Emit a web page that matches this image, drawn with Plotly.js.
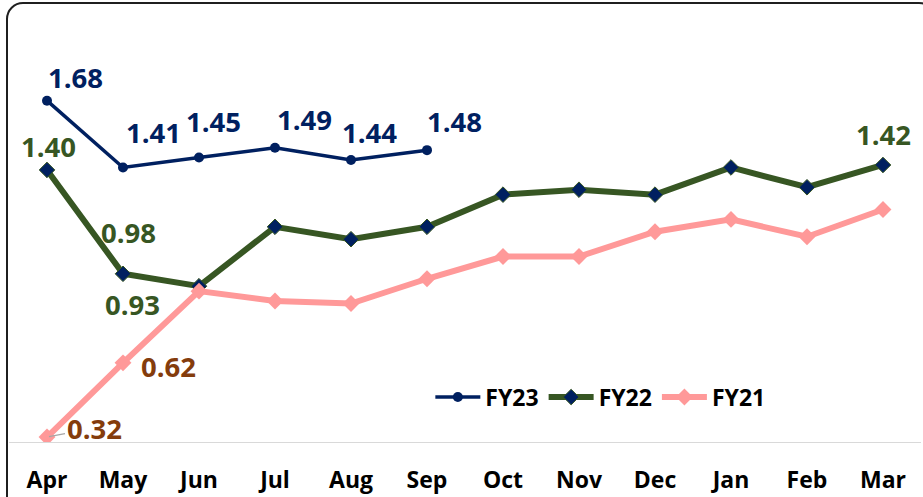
<!DOCTYPE html>
<html>
<head>
<meta charset="utf-8">
<script src="https://cdn.plot.ly/plotly-3.0.1.min.js"></script>
<style>
  html, body { margin: 0; padding: 0; width: 923px; height: 497px; overflow: hidden; background: #ffffff; }
  #chart { position: absolute; left: 0; top: 0; width: 923px; height: 497px; }
  #frame { position: absolute; left: 6px; top: 2px; width: 926px; height: 530px; border: 2px solid #1f1f1f; border-radius: 17px; pointer-events: none; z-index: 10; }
</style>
</head>
<body>
<div id="chart"></div>
<div id="frame"></div>
<script>
// ---- data ----
const months = ["Apr", "May", "Jun", "Jul", "Aug", "Sep", "Oct", "Nov", "Dec", "Jan", "Feb", "Mar"];
const fy23 = [1.68, 1.41, 1.45, 1.49, 1.44, 1.48];
const fy22 = [1.40, 0.98, 0.93, 1.17, 1.12, 1.17, 1.30, 1.32, 1.30, 1.41, 1.33, 1.42];
const fy21 = [0.32, 0.62, 0.91, 0.87, 0.86, 0.96, 1.05, 1.05, 1.15, 1.20, 1.13, 1.24];
const seriesNames = ["FY23", "FY22", "FY21"];

// which points carry a value label, and where the label sits relative to its point (px)
const fy23Labelled = [0, 1, 2, 3, 4, 5];
const fy23LabelShift = [[28, 23], [30, 35], [14, 36], [29, 28], [18, 28], [27, 29]];
const fy22Labelled = [0, 1, 2, 11];
const fy22LabelShift = [[1, 23], [5, 41], [-67, -18], [0, 30]];
const fy21Labelled = [1];
const fy21LabelShift = [[45, -4]];

const navy = "#002060", green = "#375623", pink = "#FF9999", brown = "#843C0C";
const FONT = "'Open Sans', Lato, sans-serif";

const traces = [
  {
    x: months.slice(0, fy23.length), y: fy23, name: seriesNames[0], type: "scatter", mode: "lines+markers",
    line: { color: navy, width: 3.5 },
    marker: { symbol: "circle", size: 10, color: navy }
  },
  {
    x: months, y: fy22, name: seriesNames[1], type: "scatter", mode: "lines+markers",
    line: { color: green, width: 6 },
    marker: { symbol: "diamond", size: 12, color: navy, line: { color: green, width: 1 } }
  },
  {
    x: months, y: fy21, name: seriesNames[2], type: "scatter", mode: "lines+markers",
    line: { color: pink, width: 6 },
    marker: { symbol: "diamond", size: 13, color: pink }
  }
];

function labels(values, idx, shifts, color) {
  return idx.map((i, k) => ({
    x: months[i], y: values[i], xref: "x", yref: "y",
    text: values[i].toFixed(2), showarrow: false,
    xshift: shifts[k][0], yshift: shifts[k][1],
    font: { family: FONT, size: 27.5, color: color, weight: 700 }
  }));
}

const annotations = [
  ...labels(fy23, fy23Labelled, fy23LabelShift, navy),
  ...labels(fy22, fy22Labelled, fy22LabelShift, green),
  ...labels(fy21, fy21Labelled, fy21LabelShift, brown),
  {
    x: months[0], y: fy21[0], xref: "x", yref: "y",
    text: fy21[0].toFixed(2), showarrow: true, arrowhead: 0, arrowwidth: 1.2, arrowcolor: "#a6a6a6",
    ax: 47, ay: -9, standoff: 2,
    font: { family: FONT, size: 27.5, color: brown, weight: 700 }
  }
];

const layout = {
  width: 923, height: 497,
  margin: { l: 9, r: 2, t: 71, b: 55 },
  paper_bgcolor: "#ffffff", plot_bgcolor: "#ffffff",
  font: { family: FONT, color: "#000000" },
  showlegend: true,
  legend: {
    orientation: "h", x: 0.462, xanchor: "left", y: 0.121, yanchor: "middle",
    font: { family: FONT, size: 23, color: "#000000", weight: 700 },
    bgcolor: "rgba(0,0,0,0)", traceorder: "normal", itemwidth: 45
  },
  xaxis: {
    type: "category", range: [-0.5, 11.5], fixedrange: true,
    showline: true, linecolor: "#d9d9d9", linewidth: 1,
    showgrid: false, zeroline: false, ticks: "",
    tickfont: { family: FONT, size: 23, color: "#000000", weight: 700 },
    ticklabelstandoff: 17
  },
  yaxis: {
    range: [0.3, 1.8], visible: false, showgrid: false, zeroline: false, fixedrange: true
  },
  annotations: annotations
};

Plotly.newPlot("chart", traces, layout, { displayModeBar: false, staticPlot: true });
</script>
</body>
</html>
